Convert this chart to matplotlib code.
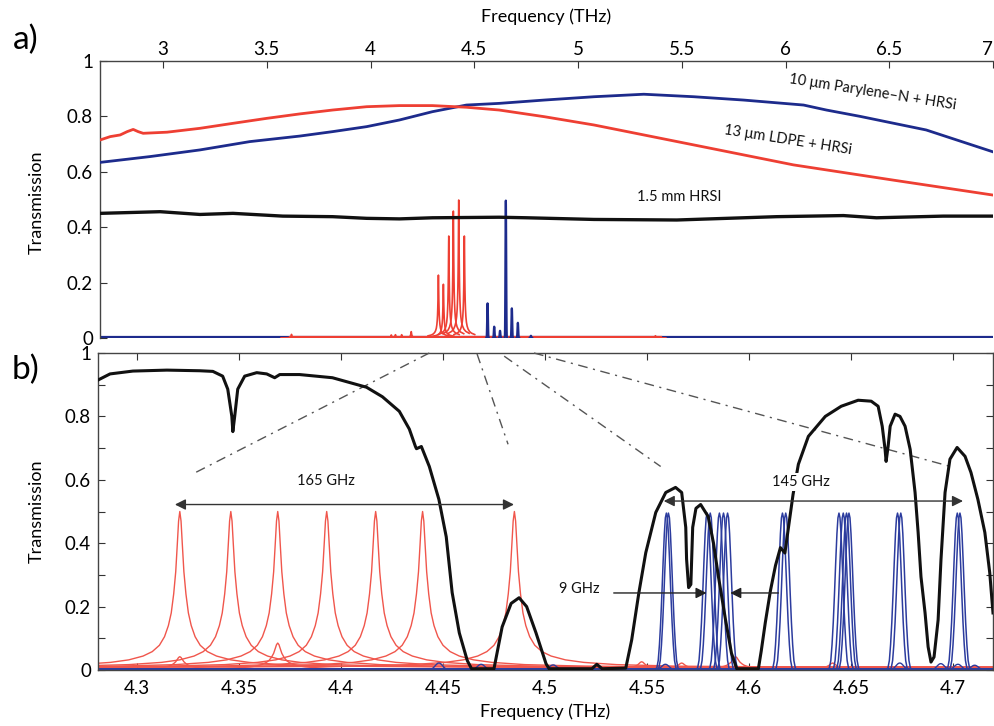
import numpy as np
import matplotlib
matplotlib.use("Agg")
import matplotlib.pyplot as plt

plt.rcParams['font.family'] = ['Lato', 'DejaVu Sans']

# ---------------- data: panel a ----------------
a_blue_f = [2.697, 2.9375, 3.178, 3.418, 3.659, 3.817, 3.981, 4.139, 4.298, 4.462, 4.62,
            4.837, 5.077, 5.317, 5.558, 5.798, 6.087, 6.197, 6.36, 6.678, 7.0]
a_blue_t = [0.634, 0.655, 0.679, 0.709, 0.729, 0.745, 0.763, 0.787, 0.817, 0.841, 0.847,
            0.859, 0.871, 0.880, 0.871, 0.859, 0.841, 0.823, 0.800, 0.751, 0.672]
a_red_f = [2.697, 2.745, 2.793, 2.827, 2.856, 2.88, 2.904, 3.019, 3.178, 3.337, 3.5, 3.659,
           3.817, 3.981, 4.139, 4.298, 4.462, 4.62, 4.837, 5.077, 5.558, 6.038, 6.519, 7.0]
a_red_t = [0.715, 0.727, 0.733, 0.745, 0.753, 0.745, 0.739, 0.743, 0.757, 0.775, 0.793, 0.809,
           0.823, 0.835, 0.839, 0.839, 0.833, 0.823, 0.799, 0.769, 0.697, 0.625, 0.570, 0.516]
a_black_f = [2.697, 2.986, 3.178, 3.337, 3.577, 3.817, 3.981, 4.139, 4.298, 4.62, 4.755,
             5.077, 5.476, 5.957, 6.279, 6.438, 6.76, 7.0]
a_black_t = [0.450, 0.456, 0.446, 0.450, 0.440, 0.438, 0.432, 0.430, 0.434, 0.436, 0.434,
             0.428, 0.426, 0.438, 0.442, 0.434, 0.440, 0.440]
a_red_peak_f = [4.327, 4.351, 4.377, 4.399, 4.425, 4.452, 4.10, 4.12, 4.15, 4.196, 3.619, 5.373]
a_red_peak_h = [0.227, 0.194, 0.368, 0.458, 0.498, 0.368, 0.011, 0.012, 0.012, 0.023, 0.013, 0.008]
a_blue_peak_f = [4.564, 4.596, 4.624, 4.652, 4.681, 4.71, 4.773]
a_blue_peak_h = [0.125, 0.041, 0.026, 0.496, 0.107, 0.055, 0.008]
a_red_base_f = [3.61, 5.40]
a_red_base_t = [0.004, 0.004]
a_blue_base_f = [2.697, 7.0]
a_blue_base_t = [0.002, 0.002]
a_xticks = [3, 3.5, 4, 4.5, 5, 5.5, 6, 6.5, 7]
a_xticklabels = ['3', '3.5', '4', '4.5', '5', '5.5', '6', '6.5', '7']

# ---------------- data: panel b ----------------
b_black_f = [4.281, 4.2868, 4.298, 4.3147, 4.3308, 4.3372, 4.342, 4.3445, 4.3465, 4.347, 4.3479,
             4.3494, 4.3528, 4.3587, 4.3636, 4.3675, 4.3700, 4.3797, 4.3958, 4.4125, 4.4203,
             4.4286, 4.4335, 4.4365, 4.437, 4.4394, 4.4433, 4.448, 4.4516, 4.4545, 4.458,
             4.4619, 4.464, 4.475, 4.479, 4.4834, 4.4873, 4.491, 4.4956, 4.5005, 4.502,
             4.523, 4.5254, 4.528, 4.5396, 4.5425, 4.546, 4.5494, 4.5543, 4.5592, 4.564,
             4.567, 4.569, 4.5694, 4.5704, 4.5715, 4.5719, 4.5724, 4.574, 4.5763, 4.580,
             4.5826, 4.585, 4.5885, 4.5914, 4.594, 4.6046, 4.606, 4.608, 4.6105, 4.613,
             4.6154, 4.6176, 4.6216, 4.6242, 4.6291, 4.6374, 4.6452, 4.6535, 4.6599, 4.6633,
             4.6653, 4.6667, 4.6672, 4.6682, 4.6692, 4.6716, 4.674, 4.6765, 4.679, 4.6814,
             4.6829, 4.6843, 4.6863, 4.6878, 4.6892, 4.6907, 4.6927, 4.6941, 4.6961, 4.6985,
             4.702, 4.7059, 4.7088, 4.7122, 4.7156, 4.718, 4.7196]
b_black_t = [0.915, 0.934, 0.943, 0.946, 0.944, 0.942, 0.927, 0.886, 0.800, 0.752, 0.800,
             0.886, 0.927, 0.938, 0.934, 0.922, 0.932, 0.932, 0.922, 0.892, 0.862,
             0.816, 0.760, 0.705, 0.698, 0.705, 0.642, 0.538, 0.420, 0.244, 0.117,
             0.030, 0.004, 0.004, 0.136, 0.210, 0.228, 0.200, 0.117, 0.020, 0.004,
             0.004, 0.018, 0.004, 0.006, 0.095, 0.243, 0.370, 0.497, 0.560, 0.576,
             0.560, 0.450, 0.350, 0.260, 0.270, 0.350, 0.450, 0.510, 0.522, 0.484,
             0.400, 0.295, 0.158, 0.053, 0.004, 0.004, 0.060, 0.150, 0.250, 0.330,
             0.386, 0.369, 0.554, 0.649, 0.737, 0.800, 0.832, 0.851, 0.848, 0.832,
             0.769, 0.696, 0.658, 0.706, 0.769, 0.807, 0.800, 0.769, 0.696, 0.560,
             0.434, 0.294, 0.180, 0.073, 0.025, 0.041, 0.158, 0.348, 0.560, 0.665,
             0.702, 0.674, 0.623, 0.538, 0.434, 0.307, 0.180]
b_red_peak_f = [4.321, 4.346, 4.369, 4.393, 4.417, 4.440, 4.485]
b_red_peak_h = [0.50, 0.50, 0.50, 0.50, 0.50, 0.50, 0.50]
b_red_bump_f = [4.321, 4.369, 4.5474, 4.567, 4.5934, 4.641]
b_red_bump_h = [0.042, 0.085, 0.026, 0.022, 0.042, 0.022]
b_blue_peak_f = [4.5595, 4.5605, 4.5795, 4.581, 4.5855, 4.5875, 4.5895, 4.6164, 4.618,
                 4.6441, 4.6462, 4.6478, 4.649, 4.6728, 4.6744, 4.7021, 4.7034]
b_blue_peak_h = [0.495] * 17
b_blue_bump_f = [4.448, 4.4687, 4.504, 4.559, 4.6739, 4.694, 4.7024, 4.7106]
b_blue_bump_h = [0.022, 0.018, 0.016, 0.018, 0.022, 0.020, 0.018, 0.015]
b_xticks = [4.3, 4.35, 4.4, 4.45, 4.5, 4.55, 4.6, 4.65, 4.7]
b_xticklabels = ['4.3', '4.35', '4.4', '4.45', '4.5', '4.55', '4.6', '4.65', '4.7']

# line-shape profiles (half profile, offset in THz, value for 0.5 peak)
red_prof_df = [0, 0.0006, 0.0012, 0.002, 0.003, 0.0042, 0.0056, 0.0075, 0.010, 0.0135,
               0.018, 0.025, 0.034, 0.05, 0.08, 0.15, 0.45]
red_prof_t = [0.50, 0.47, 0.40, 0.31, 0.24, 0.18, 0.14, 0.105, 0.078, 0.058,
              0.044, 0.032, 0.024, 0.017, 0.012, 0.009, 0.008]
blue_prof_df = [0, 0.0005, 0.001, 0.0016, 0.0022, 0.0028, 0.0034, 0.004, 0.0047, 0.006, 0.45]
blue_prof_t = [0.495, 0.48, 0.43, 0.34, 0.24, 0.15, 0.08, 0.03, 0.006, 0.002, 0.002]

# ---------------- styling ----------------
RED = '#ee3f33'
RED_B = '#f0564c'
BLUE = '#1d2b8c'
BLUE_B = '#2c3c9e'
BLACK = '#111111'


def peak_line(ax, c, h, df, prof, **kw):
    df = np.asarray(df)
    prof = np.asarray(prof) / prof[0]
    x = np.concatenate([c - df[::-1], c + df[1:]])
    y = np.concatenate([prof[::-1], prof[1:]]) * h
    ax.plot(x, y, **kw)


fig = plt.figure(figsize=(9.95, 7.26), dpi=100)
axa = fig.add_axes([100 / 995, 1 - 338 / 726, 893 / 995, 277 / 726])
axb = fig.add_axes([98 / 995, 1 - 670 / 726, 895 / 995, 317 / 726])

# ---- panel a ----
axa.plot(a_blue_base_f, a_blue_base_t, color=BLUE, lw=1.6, zorder=2)
for c, h in zip(a_blue_peak_f, a_blue_peak_h):
    peak_line(axa, c, h, blue_prof_df[:-1], blue_prof_t[:-1], color=BLUE, lw=1.6, zorder=3)
axa.plot(a_red_base_f, a_red_base_t, color=RED, lw=1.6, zorder=2.5)
for c, h in zip(a_red_peak_f, a_red_peak_h):
    peak_line(axa, c, h, red_prof_df[:-3], red_prof_t[:-3], color=RED, lw=1.2, zorder=2.6)
axa.plot(a_blue_f, a_blue_t, color=BLUE, lw=2.0, zorder=4)
axa.plot(a_red_f, a_red_t, color=RED, lw=2.0, zorder=4)
axa.plot(a_black_f, a_black_t, color=BLACK, lw=2.4, zorder=4)

axa.set_xlim(2.696, 7.0)
axa.set_ylim(0, 1)
axa.xaxis.tick_top()
axa.xaxis.set_label_position('top')
axa.set_xticks(a_xticks)
axa.set_xticklabels(a_xticklabels)
axa.get_xticklabels()[-1].set_horizontalalignment('right')
axa.set_yticks([0, 0.2, 0.4, 0.6, 0.8, 1])
axa.set_yticklabels(['0', '0.2', '0.4', '0.6', '0.8', '1'])
axa.tick_params(axis='x', direction='in', length=5, labelsize=13.5, pad=2, color='#333')
axa.tick_params(axis='y', direction='in', length=5, labelsize=13.5, pad=5, color='#333')
axa.spines['right'].set_visible(False)
axa.spines['bottom'].set_visible(False)
for s in ('top', 'left'):
    axa.spines[s].set_color('#444')
    axa.spines[s].set_linewidth(1.0)
axa.set_xlabel('Frequency (THz)', fontsize=13, labelpad=14)
axa.set_ylabel('Transmission', fontsize=13)
axa.yaxis.set_label_coords(-0.062, 0.49)

axa.text(6.42, 0.888, '10 μm Parylene–N + HRSi', rotation=-9, fontsize=10.5,
         ha='center', va='center', color=BLACK)
axa.text(6.01, 0.715, '13 μm LDPE + HRSi', rotation=-9, fontsize=10.5,
         ha='center', va='center', color=BLACK)
axa.text(5.49, 0.509, '1.5 mm HRSI', fontsize=10.5, ha='center', va='center', color=BLACK)

# ---- panel b ----
for c, h in zip(b_red_peak_f, b_red_peak_h):
    peak_line(axb, c, h, red_prof_df, red_prof_t, color=RED_B, lw=1.0, zorder=2)
for c, h in zip(b_red_bump_f, b_red_bump_h):
    peak_line(axb, c, h, red_prof_df[:-4], red_prof_t[:-4], color=RED_B, lw=1.0, zorder=2)
for c, h in zip(b_blue_peak_f, b_blue_peak_h):
    peak_line(axb, c, h, blue_prof_df, blue_prof_t, color=BLUE_B, lw=1.1, zorder=2.2)
for c, h in zip(b_blue_bump_f, b_blue_bump_h):
    peak_line(axb, c, h, blue_prof_df[:-2], blue_prof_t[:-2], color=BLUE_B, lw=1.0, zorder=2.2)
axb.plot(b_black_f, b_black_t, color=BLACK, lw=2.2, zorder=4, solid_joinstyle='round')

axb.set_xlim(4.2809, 4.7196)
axb.set_ylim(0, 1)
axb.set_xticks(b_xticks)
axb.set_xticklabels(b_xticklabels)
yt = [0, 0.1, 0.2, 0.3, 0.4, 0.5, 0.6, 0.7, 0.8, 0.9, 1.0]
axb.set_yticks(yt)
axb.set_yticklabels(['0', '', '0.2', '', '0.4', '', '0.6', '', '0.8', '', '1'])
axb.tick_params(axis='both', direction='in', length=5, labelsize=13.5, color='#333',
                top=True, right=True)
axb.tick_params(axis='x', pad=7)
axb.tick_params(axis='y', pad=5)
for s in axb.spines.values():
    s.set_color('#444')
    s.set_linewidth(1.0)
axb.set_xlabel('Frequency (THz)', fontsize=13, labelpad=5)
axb.set_ylabel('Transmission', fontsize=13)
axb.yaxis.set_label_coords(-0.059, 0.5)

# dash-dot zoom lines
dd = dict(color='#555555', lw=1.0, ls=(0, (7, 4, 1.5, 4)), zorder=3, clip_on=False)
axb.plot([4.4433, 4.3269], [1.0, 0.617], **dd)
axb.plot([4.4667, 4.4819], [0.997, 0.712], **dd)
axb.plot([4.480, 4.5567], [0.99, 0.642], **dd)
axb.plot([4.4946, 4.7005], [1.0, 0.639], **dd)

# arrows
arr2 = dict(arrowstyle='<|-|>', color='#333333', lw=1.0, mutation_scale=16,
            shrinkA=0, shrinkB=0)
axb.annotate('', xy=(4.3186, 0.522), xytext=(4.4848, 0.522), arrowprops=arr2, zorder=5)
axb.annotate('', xy=(4.5582, 0.533), xytext=(4.7049, 0.533), arrowprops=arr2, zorder=5)
arr1 = dict(arrowstyle='-|>', color='#222222', lw=1.0, mutation_scale=16,
            shrinkA=0, shrinkB=0)
axb.annotate('', xy=(4.5792, 0.243), xytext=(4.5337, 0.243), arrowprops=arr1, zorder=5)
axb.annotate('', xy=(4.5908, 0.243), xytext=(4.6144, 0.243), arrowprops=arr1, zorder=5)

axb.text(4.3924, 0.595, '165 GHz', fontsize=10.5, ha='center', va='center', color=BLACK)
axb.text(4.6257, 0.592, '145 GHz', fontsize=10.5, ha='center', va='center', color=BLACK,
         zorder=6, bbox=dict(facecolor='white', edgecolor='none', pad=1.5))
axb.text(4.5166, 0.256, '9 GHz', fontsize=10.5, ha='center', va='center', color=BLACK)

# panel letters
fig.text(26 / 995, 1 - 40 / 726, 'a)', fontsize=24, ha='center', va='center')
fig.text(25 / 995, 1 - 370 / 726, 'b)', fontsize=24, ha='center', va='center')

fig.savefig('out.png', dpi=100)
